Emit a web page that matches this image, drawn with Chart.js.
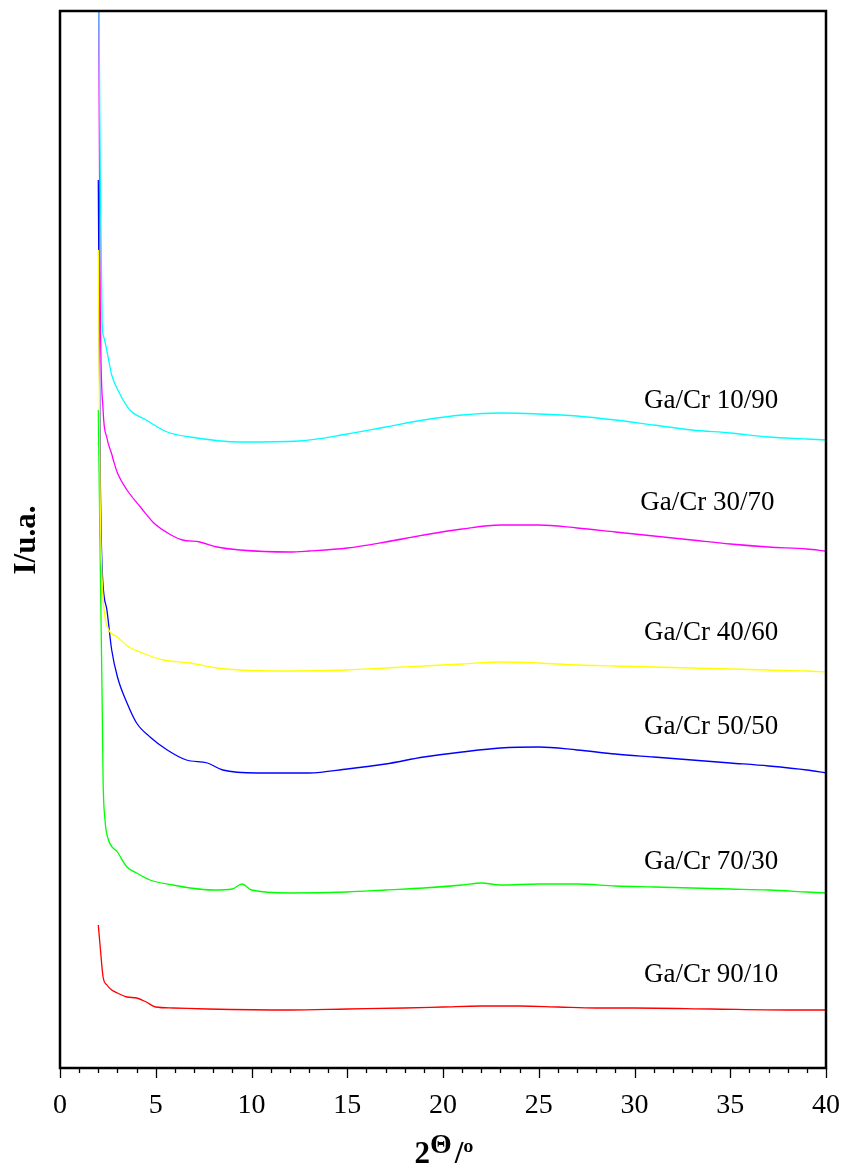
<!DOCTYPE html>
<html>
<head>
<meta charset="utf-8">
<script src="https://cdn.jsdelivr.net/npm/chart.js@4/dist/chart.umd.min.js"></script>
<style>
html,body{margin:0;padding:0;background:#fff;}
#wrap{width:846px;height:1172px;position:relative;}
</style>
</head>
<body>
<div id="wrap"><canvas id="c" width="846" height="1172"></canvas></div>
<script>
// ---- data (2θ in degrees, intensity in arbitrary units) ----
const seriesNames = ["Ga/Cr 10/90","Ga/Cr 30/70","Ga/Cr 40/60","Ga/Cr 50/50","Ga/Cr 70/30","Ga/Cr 90/10"];
const seriesColors = ["#00FFFF","#FF00FF","#FFFF00","#0000FF","#00FF00","#FF0000"];

const x1090 = [2.0,2.1,2.2,2.3,2.5,2.7,3.1,3.65,4.5,5.6,6.8,9.4,12.5,15,17,19,21,23,25,27,29,31,33,35,37,39,40];
const y1090 = [1150,900,745,730,712,693,675,658,648,636,631,626,627,634,641,648,653,655,654,652,648,643,638,635,631,629,628];

const x3070 = [2.0,2.1,2.25,2.45,2.7,2.8,3.0,3.5,4.2,4.9,5.8,6.4,7.3,8.2,9.4,12,13,15,17,19,21,23,25,27,29,31,33,35,37,39,40];
const y3070 = [1150,768,658,630,614,607,595,578,561,545,533,528,526,521,518,516,517,520,526,533,539,543,543,540,536,532,528,524,521,519,517];

const x4060 = [2.0,2.1,2.2,2.3,2.5,3.0,3.6,4.3,5.4,6.8,8.2,9.4,12,15,17,19,21,23,25,27,29,31,33,35,37,39,40];
const y4060 = [818,568,488,458,440,431,421,415,408,405,400,398,397,398,400,402,404,406,405,403,402,401,400,399,398,397,396];

const x5050 = [2.0,2.1,2.2,2.45,2.7,3.0,3.5,4.0,4.7,5.6,6.6,7.7,8.5,10.3,12,13,15,17,19,21,23,25,27,29,31,33,35,37,39,40];
const y5050 = [888,600,500,458,418,391,365,345,331,318,308,305,298,295,295,295,299,304,311,316,320,321,318,314,311,308,305,302,298,295];

const x7030 = [2.0,2.1,2.2,2.25,2.35,2.5,3.0,3.5,4.0,4.7,5.9,6.8,8,9.0,9.5,10,12,15,17,19,21,22,23,25,27,29,31,33,35,37,39,40];
const y7030 = [658,508,368,288,248,230,216,201,195,188,183,180,178,179,184,178,175,176,178,180,183,185,183,184,184,182,181,180,179,178,176,175];

const x9010 = [2.0,2.1,2.25,2.45,2.7,3.0,3.5,4.0,4.5,5.0,5.9,7.7,12,15,18,20,22,24,26,28,30,34,38,40];
const y9010 = [143,121,91,83,78,75,71,70,66,61,60,59,58,59,60,61,62,62,61,60,60,59,58,58];

const xTicks = [0,5,10,15,20,25,30,35,40];
// label anchor points (data units)
const labelX = [34.0,33.8,34.0,34.0,34.0,34.0];
const labelY = [667,565,435,341,206,93];

const xs = [x1090,x3070,x4060,x5050,x7030,x9010];
const ys = [y1090,y3070,y4060,y5050,y7030,y9010];

const datasets = seriesNames.map((n,i)=>({
  label:n,
  data: xs[i].map((x,j)=>({x:x,y:ys[i][j]})),
  borderColor: seriesColors[i],
  backgroundColor: seriesColors[i],
  borderWidth: 1.3,
  pointRadius: 0,
  cubicInterpolationMode: 'monotone',
  fill:false
}));

const serif = "'Liberation Serif','Times New Roman',serif";

const decor = {
  id:'decor',
  afterDraw(chart){
    const ctx = chart.ctx, a = chart.chartArea, xs_ = chart.scales.x, ys_ = chart.scales.y;
    ctx.save();
    // frame
    ctx.strokeStyle = '#000';
    ctx.lineWidth = 2.5;
    ctx.strokeRect(a.left, a.top, a.right-a.left, a.bottom-a.top);
    // ticks
    ctx.lineWidth = 1.3;
    for(let v=0; v<=40; v++){
      const px = Math.round(xs_.getPixelForValue(v))+0.5;
      const len = (v%5===0)?10:5;
      ctx.beginPath();
      ctx.moveTo(px, a.bottom);
      ctx.lineTo(px, a.bottom+len);
      ctx.stroke();
    }
    // series labels
    ctx.fillStyle = '#000';
    ctx.font = "27px " + serif;
    ctx.textAlign = 'center';
    ctx.textBaseline = 'middle';
    seriesNames.forEach((n,i)=>{
      ctx.fillText(n, xs_.getPixelForValue(labelX[i]), ys_.getPixelForValue(labelY[i]));
    });
    // y title
    ctx.save();
    ctx.translate(27, 540);
    ctx.rotate(-Math.PI/2);
    ctx.font = "bold 31px " + serif;
    ctx.textAlign='center';
    ctx.textBaseline='middle';
    ctx.fillText('I/u.a.', 0, 0);
    ctx.restore();
    // x title: 2Θ/º with raised Θ
    const base = 1163;
    ctx.textAlign='left';
    ctx.textBaseline='alphabetic';
    const f1 = "bold 31px " + serif, f2 = "bold 28px " + serif;
    ctx.font=f1; const w1 = ctx.measureText('2').width;
    ctx.font=f2; const w2 = ctx.measureText('Θ').width;
    ctx.font=f1; const w3 = ctx.measureText('/º').width;
    const total = w1+w2+3+w3;
    let x0 = 444 - total/2;
    ctx.font=f1; ctx.fillText('2', x0, base); x0+=w1;
    ctx.font=f2; ctx.fillText('Θ', x0, base-10); x0+=w2+3;
    ctx.font=f1; ctx.fillText('/º', x0, base);
    ctx.restore();
  }
};

new Chart(document.getElementById('c'), {
  type:'line',
  data:{datasets},
  options:{
    responsive:false,
    animation:false,
    layout:{padding:{top:11,right:20,left:0,bottom:0}},
    plugins:{legend:{display:false},tooltip:{enabled:false}},
    scales:{
      x:{
        type:'linear', min:0, max:40,
        grid:{display:false, drawTicks:false},
        border:{display:false},
        afterFit(s){ s.height = 104; s.paddingLeft = 0; s.paddingRight = 0; },
        afterBuildTicks(s){ s.ticks = xTicks.map(v=>({value:v})); },
        ticks:{
          autoSkip:false, maxRotation:0, padding:21,
          color:'#000',
          font:{family:serif, size:28},
          callback:(v)=>String(v)
        }
      },
      y:{
        type:'linear', min:0, max:1057,
        grid:{display:false, drawTicks:false},
        border:{display:false},
        ticks:{display:false},
        afterFit(s){ s.width = 60; }
      }
    }
  },
  plugins:[decor]
});
</script>
</body>
</html>
